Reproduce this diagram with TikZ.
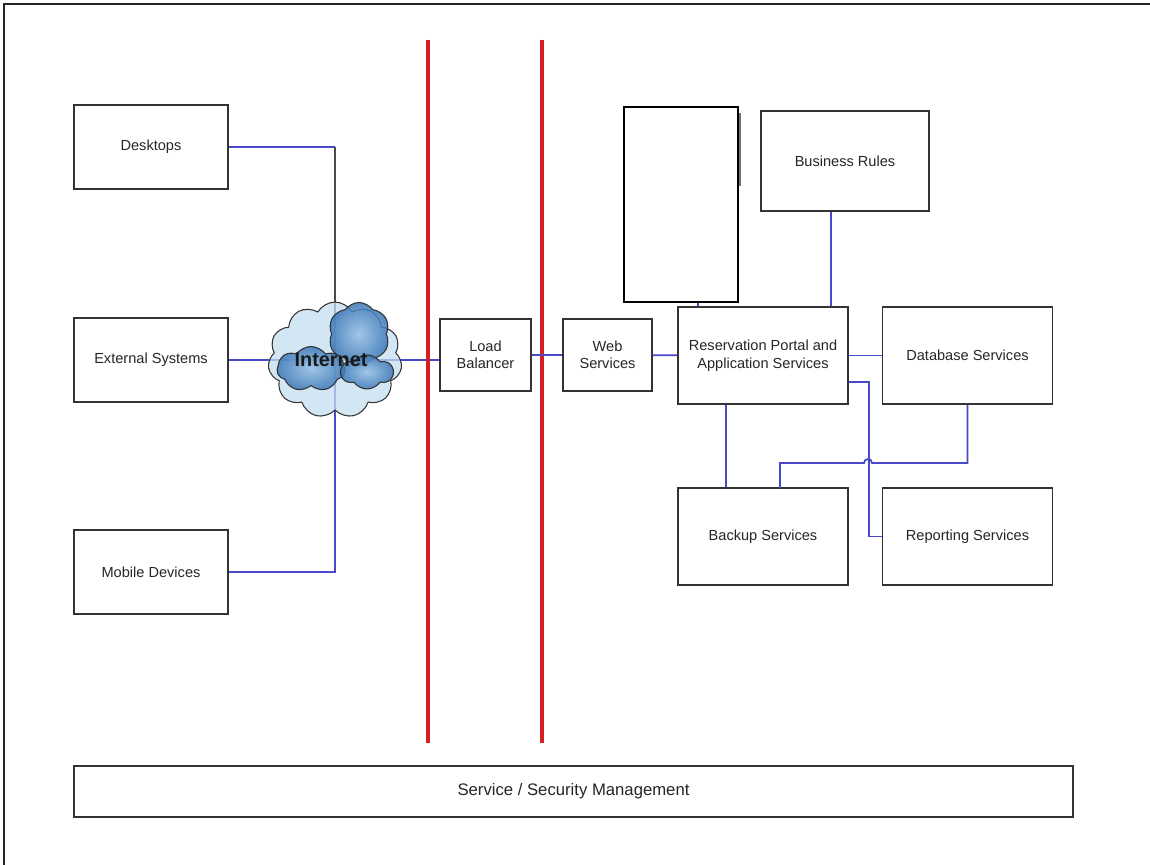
\documentclass[tikz,border=0pt]{standalone}
\usepackage{fontspec}
\setmainfont{Liberation Sans}
\usetikzlibrary{shapes.symbols,backgrounds}

\definecolor{linkblue}{RGB}{72,72,200}
\definecolor{wallred}{RGB}{215,30,35}
\definecolor{cloudpale}{RGB}{196,221,240}
\definecolor{clouddeep}{RGB}{58,118,182}
\definecolor{cloudmid}{RGB}{150,192,228}

\begin{document}
\begin{tikzpicture}[x=0.02cm,y=-0.02cm,
    box/.style={draw=black!80, line width=0.8pt, fill=white, align=center,
      font=\fontsize{8.3}{10}\selectfont, text=black!85, inner sep=0pt},
    smallbox/.style={box, minimum width=3.08cm, minimum height=1.68cm},
    bigbox/.style={box, minimum width=3.4cm, minimum height=1.94cm},
    link/.style={draw=linkblue, line width=1pt},
    darklink/.style={draw=black!70, line width=1pt},
    wall/.style={draw=wallred, line width=1.8pt},
    puff/.style={cloud, cloud puffs=11, cloud puff arc=120, draw=black!80,
      line width=0.6pt, fill opacity=0.75, inner sep=0pt},
    blob/.style={puff, cloud puffs=6, cloud puff arc=110, fill opacity=0.85,
      inner color=cloudmid, outer color=clouddeep}]
        \useasboundingbox (0,0) rectangle (1150,865);
        \draw[line width=1.1pt, black!85] (1150,4) -- (4,4) -- (4,865);

        % clients
        \node[smallbox] (des) at (151,147) {Desktops};
        \node[smallbox] (ext) at (151,360) {External Systems};
        \node[smallbox] (mob) at (151,572) {Mobile Devices};
        \coordinate (bus) at (335,360);

        % firewalls
        \draw[wall] (428,40) -- (428,743);
        \draw[wall] (542,40) -- (542,743);

        \node[box, minimum width=1.82cm, minimum height=1.44cm] (lb) at (485.5,355) {Load\\Balancer};
        \node[box, minimum width=1.78cm, minimum height=1.44cm] (web) at (607.5,355) {Web\\Services};
        \node[bigbox] (por) at (763,355.5) {Reservation Portal and\\Application Services};
        \fill[black!55] (736,113) rectangle (741,186);
        \node[draw=black, line width=1.1pt, fill=white, minimum width=2.28cm, minimum height=3.9cm] (blank) at (681,204.5) {};
        \node[box, minimum width=3.36cm, minimum height=2cm] (rules) at (845,161) {Business Rules};
        \node[bigbox] (db) at (967.5,355.5) {Database Services};
        \node[bigbox] (bak) at (763,536.5) {Backup Services};
        \node[bigbox] (rep) at (967.5,536.5) {Reporting Services};
        \node[box, minimum width=19.98cm, minimum height=1.02cm, font=\fontsize{9.5}{11}\selectfont] (mgmt) at (573.5,791.5) {Service / Security Management};

        % internet cloud
        \node[puff, fill=cloudpale, minimum width=2.68cm, minimum height=2.32cm] (inet) at (335,360) {};
        \node[blob, minimum width=1.24cm, minimum height=1.26cm] (blobA) at (359,334) {};
        \node[blob, cloud puffs=7, minimum width=1.36cm, minimum height=0.9cm] (blobB) at (311,369) {};
        \node[blob, minimum width=1.04cm, minimum height=0.68cm] (blobC) at (367,372) {};
        \node[font=\bfseries\fontsize{11.3}{13}\selectfont, text=black!90] (inetlabel) at (331,360) {Internet};

        \begin{scope}[on background layer]
          \draw[link] (des.east) -- (des.east -| bus);
          \draw[darklink] (des.east -| bus) -- (bus);
          \draw[link] (bus) |- (mob.east);
          \draw[link] (ext.east) -- (ext.east -| lb.west);
        \end{scope}
        \draw[link] (lb) -- (web);
        \draw[link] (web) -- (por);
        \draw[link] (por) -- (db);
        \draw[link] ([xshift=0.34cm]blank.south) -- ([xshift=0.34cm]blank.south |- por.north);
        \draw[link] ([xshift=-0.28cm]rules.south) -- ([xshift=-0.28cm]rules.south |- por.north);
        \draw[link] ([xshift=-0.74cm]por.south) -- ([xshift=-0.74cm]por.south |- bak.north);
        \draw[link] ([yshift=-0.53cm]por.east) -- ++(0.4cm,0) |- (rep.west);
        \draw[link] (db.south) -- (db.south |- 0,463) -- (872,463)
          arc[start angle=0, end angle=180, radius=0.08cm] -- (780,463) -- (780,488);
\end{tikzpicture}
\end{document}
